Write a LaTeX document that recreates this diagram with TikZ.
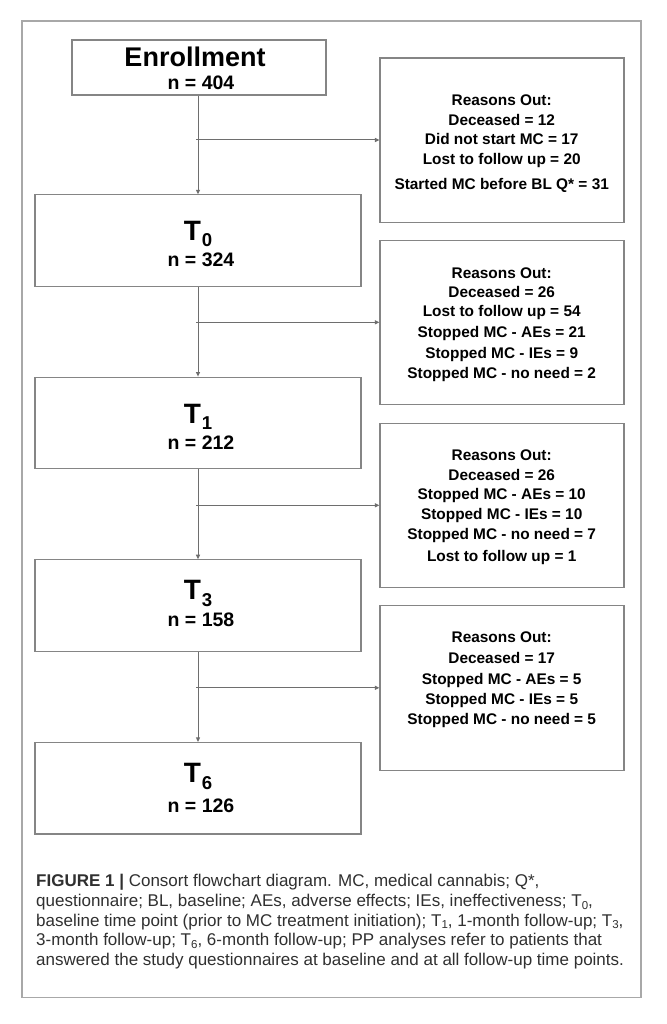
\documentclass[tikz,border=0pt]{standalone}
\usepackage{fontspec}
\setmainfont{Liberation Sans}
\usetikzlibrary{arrows.meta}
\definecolor{boxgray}{HTML}{858585}
\definecolor{linegray}{HTML}{6E6E6E}
\definecolor{framegray}{HTML}{A8A8A8}
\definecolor{capgray}{HTML}{303030}
\newcommand\capsub[1]{\raisebox{-2.6pt}{\fontsize{11.5}{11.5}\selectfont #1}}
\newcommand\tsub[1]{\kern1pt\raisebox{-6.3pt}{\fontsize{18.6}{18.6}\selectfont\bfseries #1}}
\begin{document}
\begin{tikzpicture}[x=1pt,y=-1pt,
  mainbox/.style={draw=boxgray,line width=1.1pt,inner sep=0pt,minimum width=326pt,minimum height=91.5pt},
  enrbox/.style={draw=boxgray,line width=1.1pt,inner sep=0pt,minimum width=254pt,minimum height=55pt},
  reasonbox/.style={draw=boxgray,line width=1.1pt,inner sep=0pt,minimum width=244pt,minimum height=164.3pt},
  conn/.style={draw=linegray,line width=1pt,-{Triangle[length=4.5pt,width=4pt]}},
  reason/.style={anchor=base,inner sep=0pt,font=\fontsize{15.4}{15.4}\selectfont\bfseries},
  bigT/.style={anchor=base,inner sep=0pt,font=\fontsize{28}{28}\selectfont\bfseries},
  count/.style={anchor=base,inner sep=0pt,font=\fontsize{19.5}{19.5}\selectfont\bfseries},
  title/.style={anchor=base,inner sep=0pt,font=\fontsize{27}{27}\selectfont\bfseries},
  capline/.style={anchor=base west,inner sep=0pt,text=capgray,font=\fontsize{17}{17}\selectfont}]
\useasboundingbox[fill=white] (0,0) rectangle (666,1024);
% outer frame
\draw[framegray,line width=1.3pt] (22,21) rectangle (641,997.7);
% main boxes
\node[enrbox] (enr) at (199,67.5) {};
\node[mainbox] (t0) at (198,240.6) {};
\node[mainbox] (t1) at (198,422.9) {};
\node[mainbox] (t3) at (198,605.5) {};
\node[mainbox] (t6) at (198,788.2) {};
% reason boxes
\node[reasonbox] (r1) at (502,140.2) {};
\node[reasonbox] (r2) at (502,322.7) {};
\node[reasonbox] (r3) at (502,505.2) {};
\node[reasonbox] (r4) at (502,687.9) {};
% main texts
\node[title] (enrT) at (195,66.7) {Enrollment};
\node[count] (enrN) at (201,89.3) {n = 404};
\node[bigT] (t0T) at (198,240.7) {T\tsub{0}};
\node[count] (t0N) at (201,266.7) {n = 324};
\node[bigT] (t1T) at (198,423) {T\tsub{1}};
\node[count] (t1N) at (201,449.5) {n = 212};
\node[bigT] (t3T) at (198,599.7) {T\tsub{3}};
\node[count] (t3N) at (201,626.3) {n = 158};
\node[bigT] (t6T) at (198,782.7) {T\tsub{6}};
\node[count] (t6N) at (201,812.7) {n = 126};
% reason texts
\foreach \yy/\txt in {106/Reasons Out:,126/Deceased = 12,145/Did not start MC = 17,165/Lost to follow up = 20,190/Started MC before BL Q* = 31}
  \node[reason] at (501.7,\yy) {\txt};
\foreach \yy/\txt in {278.3/Reasons Out:,297.7/Deceased = 26,316.7/Lost to follow up = 54,337/Stopped MC - AEs = 21,358/Stopped MC - IEs = 9,378/Stopped MC - no need = 2}
  \node[reason] at (501.7,\yy) {\txt};
\foreach \yy/\txt in {460.3/Reasons Out:,480.7/Deceased = 26,499.7/Stopped MC - AEs = 10,519.7/Stopped MC - IEs = 10,539.7/Stopped MC - no need = 7,561.3/Lost to follow up = 1}
  \node[reason] at (501.7,\yy) {\txt};
\foreach \yy/\txt in {642.7/Reasons Out:,663.3/Deceased = 17,684/Stopped MC - AEs = 5,704.3/Stopped MC - IEs = 5,724.3/Stopped MC - no need = 5}
  \node[reason] at (501.7,\yy) {\txt};
% connectors
\draw[conn] (enr.south -| t0.north) -- (t0.north);
\draw[conn] (t0) -- (t1);
\draw[conn] (t1) -- (t3);
\draw[conn] (t3) -- (t6);
\coordinate (b1) at (196,140);
\coordinate (b2) at (196,322.3);
\coordinate (b3) at (196,505.3);
\coordinate (b4) at (196,687.8);
\draw[conn] (b1) -- (b1 -| r1.west);
\draw[conn] (b2) -- (b2 -| r2.west);
\draw[conn] (b3) -- (b3 -| r3.west);
\draw[conn] (b4) -- (b4 -| r4.west);
% caption
\node[capline] (c1) at (36,886.7) {\textbf{FIGURE 1 |} Consort flowchart diagram. MC, medical cannabis; Q*,};
\node[capline] (c2) at (36,906.4) {questionnaire; BL, baseline; AEs, adverse effects; IEs, ineffectiveness; T\capsub{0},};
\node[capline] (c3) at (36,926.1) {baseline time point (prior to MC treatment initiation); T\capsub{1}, 1-month follow-up; T\capsub{3},};
\node[capline] (c4) at (36,945.8) {3-month follow-up; T\capsub{6}, 6-month follow-up; PP analyses refer to patients that};
\node[capline] (c5) at (36,965.5) {answered the study questionnaires at baseline and at all follow-up time points.};
\end{tikzpicture}
\end{document}
